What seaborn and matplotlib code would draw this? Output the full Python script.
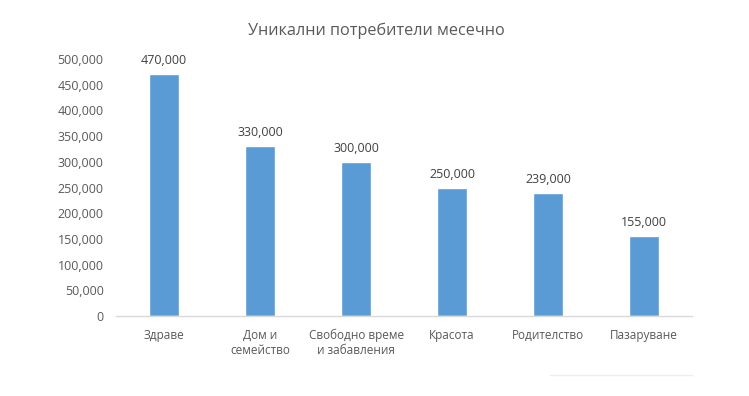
import pandas as pd
import matplotlib
matplotlib.use('Agg')
import matplotlib.pyplot as plt
import seaborn as sns
from matplotlib.lines import Line2D
from matplotlib.ticker import FuncFormatter

# Chart data
categories = ['Здраве', 'Дом и\nсемейство', 'Свободно време\nи забавления',
              'Красота', 'Родителство', 'Пазаруване']
users = [470000, 330000, 300000, 250000, 239000, 155000]

df = pd.DataFrame({'category': categories, 'users': users})

sns.set_style('white')
plt.rcParams['font.family'] = ['Open Sans', 'DejaVu Sans']

fig = plt.figure(figsize=(7.49, 3.96), dpi=100)
ax = fig.add_axes([0.155, 0.202, 0.769, 0.649])

sns.barplot(data=df, x='category', y='users', color='#5B9BD5',
            width=0.31, saturation=1, ax=ax)

ax.set_ylim(0, 500000)
ax.set_yticks(range(0, 500001, 50000))
ax.yaxis.set_major_formatter(FuncFormatter(lambda v, p: f'{int(v):,}'))
ax.set_xlabel('')
ax.set_ylabel('')
ax.tick_params(axis='both', length=0, labelsize=9, colors='#595959')
ax.tick_params(axis='y', pad=9)
ax.tick_params(axis='x', pad=9)

for lbl in ax.get_xticklabels():
    lbl.set_fontsize(8.5)

for s in ['top', 'right', 'left']:
    ax.spines[s].set_visible(False)
ax.spines['bottom'].set_color('#D9D9D9')
ax.spines['bottom'].set_linewidth(1)

# value labels
for cont in ax.containers:
    ax.bar_label(cont, labels=[f'{v:,}' for v in users], padding=5,
                 fontsize=9, color='#404040')

fig.text(0.502, 0.923, 'Уникални потребители месечно', ha='center', va='center',
         fontsize=11.7, color='#595959')

# faint line at the bottom right
fig.add_artist(Line2D([550 / 749, 692 / 749], [1 - 375 / 396, 1 - 375 / 396],
                      color='#EEEEEE', linewidth=1, transform=fig.transFigure))

fig.savefig('out.png', dpi=100)
plt.close(fig)
